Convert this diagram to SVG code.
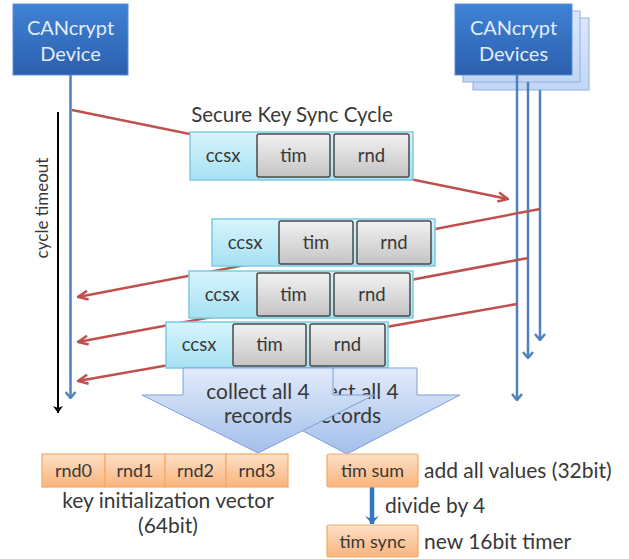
<svg xmlns="http://www.w3.org/2000/svg" width="629" height="559" viewBox="0 0 629 559">
<defs>
<linearGradient id="gDev" x1="0" y1="0" x2="0" y2="1"><stop offset="0" stop-color="#3f82d4"/><stop offset="1" stop-color="#2c5fae"/></linearGradient>
<linearGradient id="gDevBack" x1="0" y1="0" x2="0" y2="1"><stop offset="0" stop-color="#dbe7fa"/><stop offset="1" stop-color="#c2d6f4"/></linearGradient>
<linearGradient id="gCyan" x1="0" y1="0" x2="0" y2="1"><stop offset="0" stop-color="#d8f4fc"/><stop offset="1" stop-color="#a6e1f3"/></linearGradient>
<linearGradient id="gGray" x1="0" y1="0" x2="0" y2="1"><stop offset="0" stop-color="#f2f2f2"/><stop offset="1" stop-color="#c4c4c4"/></linearGradient>
<linearGradient id="gOrange" x1="0" y1="0" x2="0" y2="1"><stop offset="0" stop-color="#fde0c6"/><stop offset="1" stop-color="#f9b47c"/></linearGradient>
<linearGradient id="gArrow" x1="0" y1="0" x2="0" y2="1"><stop offset="0" stop-color="#e2ebfa"/><stop offset="1" stop-color="#a3bfeb"/></linearGradient>
<clipPath id="backClip"><polygon points="334,355 475,355 475,465 258,465 258,453 374,395 334,395"/></clipPath>
<marker id="mRed" viewBox="0 0 12 12" refX="11" refY="6" markerWidth="12" markerHeight="12" markerUnits="userSpaceOnUse" orient="auto"><polyline points="1,1.5 11,6 1,10.5" fill="none" stroke="#c0504d" stroke-width="2.5" stroke-linejoin="miter"/></marker>
<marker id="mBlue" viewBox="0 0 12 12" refX="6" refY="11" markerWidth="12" markerHeight="12" markerUnits="userSpaceOnUse" orient="0"><polyline points="1,5 6,11 11,5" fill="none" stroke="#4f81bd" stroke-width="2.5"/></marker>
<marker id="mBlack" viewBox="0 0 12 12" refX="6" refY="11" markerWidth="12" markerHeight="12" markerUnits="userSpaceOnUse" orient="0"><polygon points="1,4 6,11 11,4 6,6" fill="#000"/></marker>
<marker id="mBlueBig" viewBox="0 0 14 12" refX="7" refY="11" markerWidth="14" markerHeight="12" markerUnits="userSpaceOnUse" orient="0"><polygon points="0,3 7,11 14,3 7,6" fill="#2f78c8"/></marker>
</defs>
<style>
text{font-family:Lato,"Open Sans","Liberation Sans",sans-serif;fill:#383838}
.dev{fill:url(#gDev);stroke:#5a8fd6;stroke-width:1}
.devb{fill:url(#gDevBack);stroke:#8fb0e2;stroke-width:1}
.devt{fill:#e2ecfa;font-size:20px;text-anchor:middle}
.msg{fill:url(#gCyan);stroke:#7ccbe2;stroke-width:1.5}
.cell{fill:url(#gGray);stroke:#4a4a4a;stroke-width:1.5}
.ct{font-size:18.5px;text-anchor:middle}
.org{fill:url(#gOrange);stroke:#f5a96a;stroke-width:1.2}
.ot{font-size:18px;text-anchor:middle}
.lbl{font-size:21px}
.red{stroke:#c0504d;stroke-width:2.5;fill:none}
.bl{stroke:#4f81bd;stroke-width:2.5;fill:none}
.barrow{fill:url(#gArrow);stroke:#7da0d8;stroke-width:1}
.at{font-size:21px;text-anchor:middle}
</style>

<!-- left device -->
<g id="device-left">
<rect class="dev" x="13" y="4" width="115" height="71"/>
<text class="devt" x="70.5" y="35">CANcrypt</text>
<text class="devt" x="70.5" y="61">Device</text>
</g>

<!-- right devices -->
<g id="devices-right">
<rect class="devb" x="473" y="18" width="116" height="72"/>
<rect class="devb" x="463" y="11" width="117" height="71"/>
<rect class="dev" x="455" y="4" width="117" height="71"/>
<text class="devt" x="513.5" y="35">CANcrypt</text>
<text class="devt" x="513.5" y="61">Devices</text>
</g>

<!-- connectors -->
<g id="connectors">
<line class="bl" x1="70.5" y1="75" x2="70.5" y2="398" marker-end="url(#mBlue)"/>
<line x1="58" y1="112" x2="58" y2="413" stroke="#000" stroke-width="2" marker-end="url(#mBlack)"/>
<line class="bl" x1="517" y1="75" x2="517" y2="400" marker-end="url(#mBlue)"/>
<line class="bl" x1="528" y1="82" x2="528" y2="358" marker-end="url(#mBlue)"/>
<line class="bl" x1="540" y1="90" x2="540" y2="340" marker-end="url(#mBlue)"/>
<line class="red" x1="72" y1="110" x2="508" y2="199" marker-end="url(#mRed)"/>
<line class="red" x1="540" y1="209" x2="78" y2="297" marker-end="url(#mRed)"/>
<line class="red" x1="528" y1="258" x2="78" y2="342" marker-end="url(#mRed)"/>
<line class="red" x1="517" y1="304" x2="78" y2="381" marker-end="url(#mRed)"/>
<line x1="372" y1="487" x2="372" y2="524" stroke="#2f78c8" stroke-width="4.5" marker-end="url(#mBlueBig)"/>
</g>

<text x="292" y="122" font-size="20.5" text-anchor="middle">Secure Key Sync Cycle</text>
<text transform="translate(48,208) rotate(-90)" font-size="17" text-anchor="middle">cycle timeout</text>

<!-- message 1 -->
<g id="msg1">
<rect class="msg" x="190" y="132" width="223" height="48"/>
<text class="ct" x="223" y="162">ccsx</text>
<rect class="cell" x="257" y="134" width="73" height="43" rx="2"/>
<text class="ct" x="293.5" y="162">tim</text>
<rect class="cell" x="334" y="134" width="75" height="43" rx="2"/>
<text class="ct" x="371.5" y="162">rnd</text>
</g>

<!-- message 2 -->
<g id="msg2">
<rect class="msg" x="212" y="219" width="223" height="47"/>
<text class="ct" x="245" y="249">ccsx</text>
<rect class="cell" x="279" y="221" width="74" height="43" rx="2"/>
<text class="ct" x="316" y="249">tim</text>
<rect class="cell" x="357" y="221" width="74" height="43" rx="2"/>
<text class="ct" x="394" y="249">rnd</text>
</g>

<!-- message 3 -->
<g id="msg3">
<rect class="msg" x="189" y="271" width="224" height="47"/>
<text class="ct" x="222" y="301">ccsx</text>
<rect class="cell" x="257" y="273" width="73" height="43" rx="2"/>
<text class="ct" x="293.5" y="301">tim</text>
<rect class="cell" x="334" y="273" width="76" height="43" rx="2"/>
<text class="ct" x="372" y="301">rnd</text>
</g>

<!-- message 4 -->
<g id="msg4">
<rect class="msg" x="166" y="322" width="222" height="46"/>
<text class="ct" x="199" y="351">ccsx</text>
<rect class="cell" x="233" y="324" width="73" height="42" rx="2"/>
<text class="ct" x="269.5" y="351">tim</text>
<rect class="cell" x="310" y="324" width="75" height="42" rx="2"/>
<text class="ct" x="347.5" y="351">rnd</text>
</g>

<!-- collect arrows -->
<g id="collect-back">
<polygon class="barrow" points="277,368 417,368 417,395 460,395 347,454 234,395 277,395"/>
<g clip-path="url(#backClip)">
<text class="at" x="347" y="399">collect all 4</text>
<text class="at" x="347" y="423">records</text>
</g>
</g>
<g id="collect-front">
<polygon class="barrow" points="183,368 333,368 333,395 374,395 258,453 142,395 183,395"/>
<text class="at" x="258" y="399">collect all 4</text>
<text class="at" x="258" y="423">records</text>
</g>

<!-- key vector -->
<g id="key-vector">
<rect class="org" x="42" y="454" width="63" height="33"/>
<rect class="org" x="105" y="454" width="60" height="33"/>
<rect class="org" x="165" y="454" width="61" height="33"/>
<rect class="org" x="226" y="454" width="62" height="33"/>
<text class="ot" x="73.5" y="477">rnd0</text>
<text class="ot" x="135" y="477">rnd1</text>
<text class="ot" x="195.5" y="477">rnd2</text>
<text class="ot" x="257" y="477">rnd3</text>
<text class="lbl" x="168" y="508" text-anchor="middle">key initialization vector</text>
<text class="lbl" x="168" y="533" text-anchor="middle">(64bit)</text>
</g>

<g id="tim-sum">
<rect class="org" x="327" y="454" width="91" height="33" rx="2"/>
<text class="ot" x="372.5" y="477">tim sum</text>
<text class="lbl" x="424" y="478">add all values (32bit)</text>
</g>
<text class="lbl" x="385" y="513">divide by 4</text>
<g id="tim-sync">
<rect class="org" x="327" y="525" width="91" height="32" rx="2"/>
<text class="ot" x="372.5" y="548">tim sync</text>
<text class="lbl" x="424" y="549">new 16bit timer</text>
</g>
</svg>
